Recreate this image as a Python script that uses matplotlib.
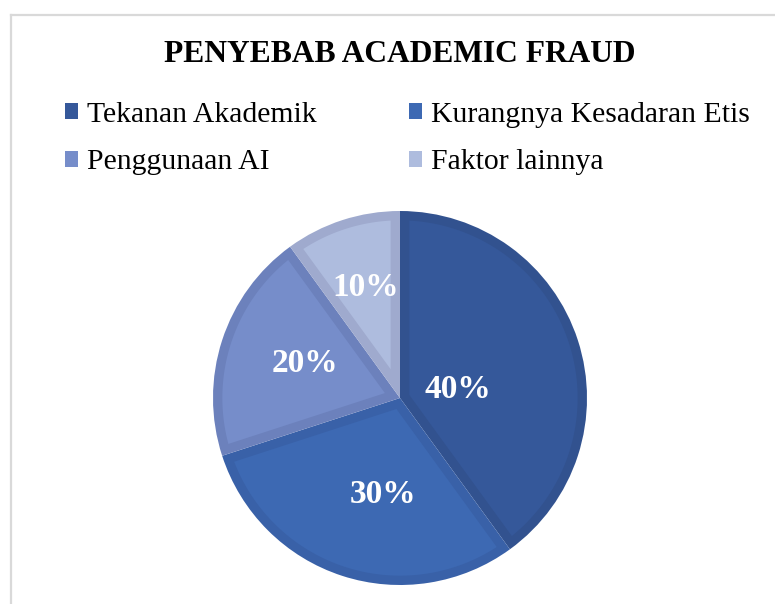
import matplotlib.pyplot as plt
from matplotlib.lines import Line2D
from matplotlib.patches import Patch, Polygon
import numpy as np

plt.rcParams['font.family'] = ['Liberation Serif', 'DejaVu Serif']

categories = ['Tekanan Akademik', 'Kurangnya Kesadaran Etis', 'Penggunaan AI', 'Faktor lainnya']
values = [40, 30, 20, 10]
fill_colors = ['#35589A', '#3D69B3', '#768DCA', '#AEBCDE']
edge_colors = ['#32528F', '#3961A8', '#6C81BC', '#9FAACE']
label_dist = [0.31, 0.525, 0.54, 0.62]
label_turn = [-10, 8, -2, -1]   # degrees, Excel's label placement is not on the bisector

W, H = 775, 604
fig = plt.figure(figsize=(W / 100, H / 100), dpi=100)

# chart frame (light grey, runs off the right and bottom edges)
fig.add_artist(Line2D([10.5 / W, 10.5 / W], [0, 1 - 14.5 / H], color='#D9D9D9', lw=1.6))
fig.add_artist(Line2D([10.5 / W, 1], [1 - 14.5 / H, 1 - 14.5 / H], color='#D9D9D9', lw=1.6))

cx, cy, r = 400, 398, 187
ax = fig.add_axes([(cx - r) / W, 1 - (cy + r) / H, 2 * r / W, 2 * r / H])

# the wedge itself carries the border colour, an inset copy carries the fill
wedges, _ = ax.pie(values, colors=edge_colors, startangle=90, counterclock=False,
                   radius=1, wedgeprops=dict(linewidth=0))
b = 0.05
for w, fc in zip(wedges, fill_colors):
    t1, t2 = np.deg2rad(w.theta1), np.deg2rad(w.theta2)
    half = (t2 - t1) / 2
    mid = (t1 + t2) / 2
    rr = 1 - b
    da = np.arcsin(b / rr)
    arc = np.linspace(t1 + da, t2 - da, 120)
    corner = [b / np.sin(half) * np.cos(mid), b / np.sin(half) * np.sin(mid)]
    pts = [corner] + [[rr * np.cos(a), rr * np.sin(a)] for a in arc]
    ax.add_patch(Polygon(pts, closed=True, facecolor=fc, edgecolor='none', zorder=2))

for w, v, d, t in zip(wedges, values, label_dist, label_turn):
    ang = np.deg2rad((w.theta1 + w.theta2) / 2 + t)
    ax.text(d * np.cos(ang), d * np.sin(ang), f'{v}%', color='white', fontsize=24,
            fontweight='bold', ha='center', va='center', zorder=3)

ax.set_xlim(-1, 1)
ax.set_ylim(-1, 1)
ax.set_aspect('equal')
ax.axis('off')

fig.text(400 / W, 1 - 55 / H, 'PENYEBAB ACADEMIC FRAUD', ha='center', va='center',
         fontsize=22.7, fontweight='bold')

# legend: two rows, filled row by row
handles = [Patch(facecolor=c, edgecolor='none') for c in fill_colors]
order = [0, 2, 1, 3]
fig.legend([handles[i] for i in order], [categories[i] for i in order], ncol=2,
           loc='upper left', bbox_to_anchor=(65 / W, 1 - 102 / H), frameon=False,
           fontsize=21.4, handlelength=0.45, handleheight=0.45, handletextpad=0.3,
           columnspacing=3.1, labelspacing=0.71, borderaxespad=0, borderpad=0)

fig.savefig('out.png', dpi=100, facecolor='white')
